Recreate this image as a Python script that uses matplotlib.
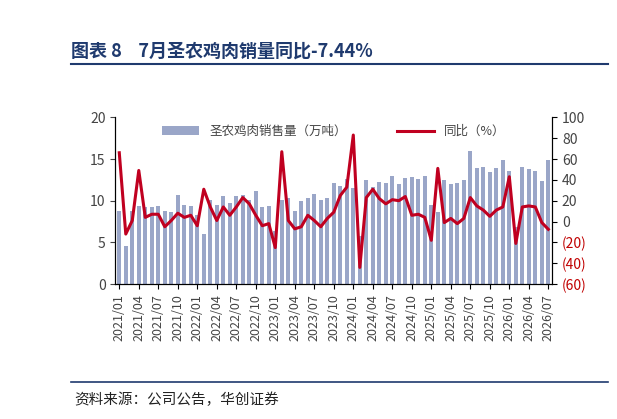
import matplotlib
matplotlib.use("Agg")
import matplotlib.pyplot as plt
import numpy as np
from matplotlib.lines import Line2D

plt.rcParams['font.family'] = ['Noto Sans CJK SC', 'DejaVu Sans']

months = [f"{y}/{m:02d}" for y in range(2021, 2027) for m in range(1, 13)][:67]
sales = [8.8,4.6,8.8,9.4,9.2,9.2,9.4,8.8,8.7,10.7,9.5,9.4,
         8.3,6.0,10.1,9.5,10.6,9.7,10.6,10.7,10.1,11.2,9.2,9.4,
         6.4,10.1,10.3,8.8,10.0,10.3,10.8,10.1,10.3,12.1,11.8,
         12.6,11.5,5.8,12.5,11.6,12.2,12.1,13.0,12.0,12.7,12.8,12.6,
         13.0,9.5,8.6,12.5,12.0,12.1,12.5,16.0,13.9,14.1,13.4,13.9,
         14.9,13.6,6.8,14.1,13.8,13.6,12.4,14.9]
yoy = [66,-12,1,49,4,7,7,-5,1,8,4,6,
       -4,31,14,1,14,6,14,23,17,6,-4,-2,
       -25,67,1,-7,-5,6,1,-5,3,9,25,
       33,83,-44,23,31,22,17,21,20,24,6,7,
       4,-18,51,-1,3,-2,3,23,15,11,5,11,
       14,43,-21,14,15,14,-1,-7.44]

fig = plt.figure(figsize=(6.17, 4.19), dpi=100)
fig.text(0.115, 0.865, "图表 8    7月圣农鸡肉销量同比-7.44%", fontsize=13, fontweight='bold',
         color='#1f3a6e')
fig.add_artist(Line2D([0.115, 0.985], [0.848, 0.848], color='#1f3a6e', lw=1.5))
fig.add_artist(Line2D([0.115, 0.985], [0.088, 0.088], color='#1f3a6e', lw=1.2))
fig.text(0.12, 0.035, "资料来源：公司公告，华创证券", fontsize=10.5, fontstyle='italic', color='#222222')

ax = fig.add_axes([0.187, 0.322, 0.708, 0.398])
x = np.arange(len(months))
ax.bar(x, sales, width=0.6, color='#9aa6c8', label='圣农鸡肉销售量（万吨）')
ax.set_ylim(0, 20)
ax.set_yticks([0, 5, 10, 15, 20])
ax.set_xlim(-0.6, len(months) - 0.4)
ax.set_xticks(x[::3])
ax.set_xticklabels(months[::3], rotation=90, fontsize=9, color='#444444')
ax.tick_params(axis='y', labelsize=10, colors='#444444')
ax.spines['top'].set_visible(False)
ax2 = ax.twinx()
ax2.plot(x, yoy, color='#c00020', lw=2.2, label='同比（%）')
ax2.set_ylim(-60, 100)
ticks = list(range(-60, 101, 20))
ax2.set_yticks(ticks)
ax2.set_yticklabels([f"({-t})" if t < 0 else str(t) for t in ticks], fontsize=10)
for lbl, t in zip(ax2.get_yticklabels(), ticks):
    lbl.set_color('#c00000' if t < 0 else '#444444')
ax2.spines['top'].set_visible(False)
h1, l1 = ax.get_legend_handles_labels()
h2, l2 = ax2.get_legend_handles_labels()
ax2.legend(h1 + h2, l1 + l2, loc='upper center', ncol=2, frameon=False, fontsize=9,
           bbox_to_anchor=(0.5, 1.02), handlelength=3, columnspacing=4, labelcolor='#444444')
fig.savefig("out.png", dpi=100)
